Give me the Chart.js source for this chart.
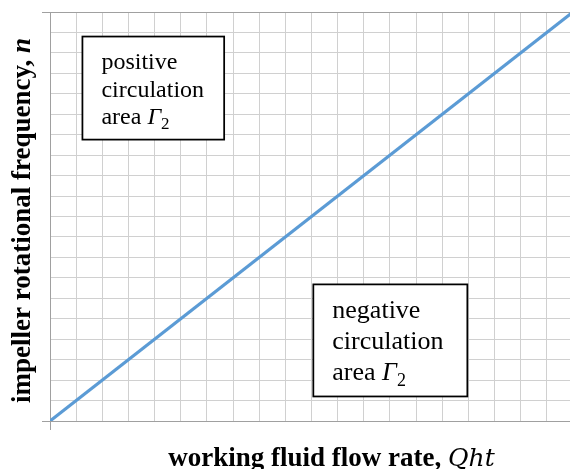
<!DOCTYPE html>
<html>
<head>
<meta charset="utf-8">
<script src="https://cdn.jsdelivr.net/npm/chart.js@4"></script>
<style>
    html, body { margin: 0; padding: 0; background: #fff; overflow: hidden; }
    #wrap { width: 576px; height: 469px; position: relative; }
</style>
</head>
<body>
<div id="wrap"><canvas id="chart"></canvas></div>
<script>
// data: flow rate vs impeller frequency (boundary line)
const flowRate = [0, 20];
const frequency = [0, 20];
const axisMin = 0;
const axisMax = 20;
const gridStep = 1;

const xTitle = ['working fluid flow rate, ', 'Qht'];
const yTitle = ['impeller rotational frequency, ', 'n'];
const topLabel = ['positive', 'circulation', 'area '];
const bottomLabel = ['negative', 'circulation', 'area '];

// label boxes, edges in data units
const boxes = [
    { lines: topLabel, x0: 1.24, x1: 6.66, y0: 18.8, y1: 13.76, size: 24, lineH: 27.5, padX: 19, padY: 32.5 },
    { lines: bottomLabel, x0: 10.07, x1: 15.96, y0: 6.68, y1: 1.2, size: 26, lineH: 31, padX: 19, padY: 34 }
];

const AXIS = '#a0a0a0';
const GRID = '#d0d0d0';
const SERIF = '"Liberation Serif", "Times New Roman", serif';

function drawRuns(ctx, runs, x, y, align) {
    let total = 0;
    for (const r of runs) {
        ctx.font = r.font;
        total += ctx.measureText(r.text).width;
    }
    let cx = align === 'center' ? x - total / 2 : x;
    ctx.textAlign = 'left';
    ctx.textBaseline = 'alphabetic';
    for (const r of runs) {
        ctx.font = r.font;
        ctx.fillText(r.text, cx, y + (r.dy || 0));
        cx += ctx.measureText(r.text).width;
    }
}

const extras = {
    id: 'extras',
    afterDraw(chart) {
        const ctx = chart.ctx;
        const xs = chart.scales.x, ys = chart.scales.y;
        const area = chart.chartArea;
        ctx.save();
        ctx.fillStyle = '#000';

        for (const b of boxes) {
            const left = xs.getPixelForValue(b.x0), right = xs.getPixelForValue(b.x1);
            const top = ys.getPixelForValue(b.y0), bottom = ys.getPixelForValue(b.y1);
            ctx.fillStyle = '#fff';
            ctx.fillRect(left, top, right - left, bottom - top);
            ctx.strokeStyle = '#000';
            ctx.lineWidth = 1.75;
            ctx.strokeRect(left, top, right - left, bottom - top);
            ctx.fillStyle = '#000';
            const reg = `${b.size}px ${SERIF}`;
            b.lines.forEach((t, i) => {
                const y = top + b.padY + i * b.lineH;
                const runs = [{ text: t, font: reg }];
                if (i === 2) {
                    runs.push({ text: 'Γ', font: `italic ${b.size}px ${SERIF}` });
                    runs.push({ text: '2', font: `${Math.round(b.size * 0.7)}px ${SERIF}`, dy: b.size * 0.22 });
                }
                drawRuns(ctx, runs, left + b.padX, y, 'left');
            });
        }

        // x axis title
        drawRuns(ctx, [
            { text: xTitle[0], font: `bold 27px ${SERIF}` },
            { text: xTitle[1], font: `italic 25px "DejaVu Serif", serif` }
        ], (area.left + area.right) / 2 + 20, 466, 'center');

        // y axis title
        ctx.translate(30, (area.top + area.bottom) / 2 + 4);
        ctx.rotate(-Math.PI / 2);
        drawRuns(ctx, [
            { text: yTitle[0], font: `bold 27px ${SERIF}` },
            { text: yTitle[1], font: `bold italic 27px ${SERIF}` }
        ], 0, 0, 'center');
        ctx.restore();
    }
};

const edgeTick = ctx => (ctx.tick && (ctx.tick.value === axisMin || ctx.tick.value === axisMax)) ? AXIS : 'rgba(0,0,0,0)';

new Chart(document.getElementById('chart'), {
    type: 'line',
    data: {
        datasets: [{
            data: flowRate.map((q, i) => ({ x: q, y: frequency[i] })),
            borderColor: '#5b9bd5',
            borderWidth: 3.2,
            pointRadius: 0,
            fill: false,
            tension: 0
        }]
    },
    options: {
        responsive: true,
        maintainAspectRatio: false,
        animation: false,
        layout: { padding: { left: 42, right: 3, top: 12, bottom: 39 } },
        plugins: {
            legend: { display: false },
            tooltip: { enabled: false }
        },
        scales: {
            x: {
                type: 'linear',
                min: axisMin,
                max: axisMax,
                ticks: { display: false, stepSize: gridStep },
                grid: {
                    color: GRID,
                    lineWidth: 1,
                    drawTicks: true,
                    tickLength: 9,
                    tickColor: edgeTick
                },
                border: { display: true, color: AXIS, width: 1 }
            },
            y: {
                type: 'linear',
                min: axisMin,
                max: axisMax,
                ticks: { display: false, stepSize: gridStep },
                grid: {
                    color: ctx => ctx.tick && ctx.tick.value === axisMax ? AXIS : GRID,
                    lineWidth: 1,
                    drawTicks: true,
                    tickLength: 8,
                    tickColor: edgeTick
                },
                border: { display: true, color: AXIS, width: 1 }
            }
        }
    },
    plugins: [extras]
});
</script>
</body>
</html>
